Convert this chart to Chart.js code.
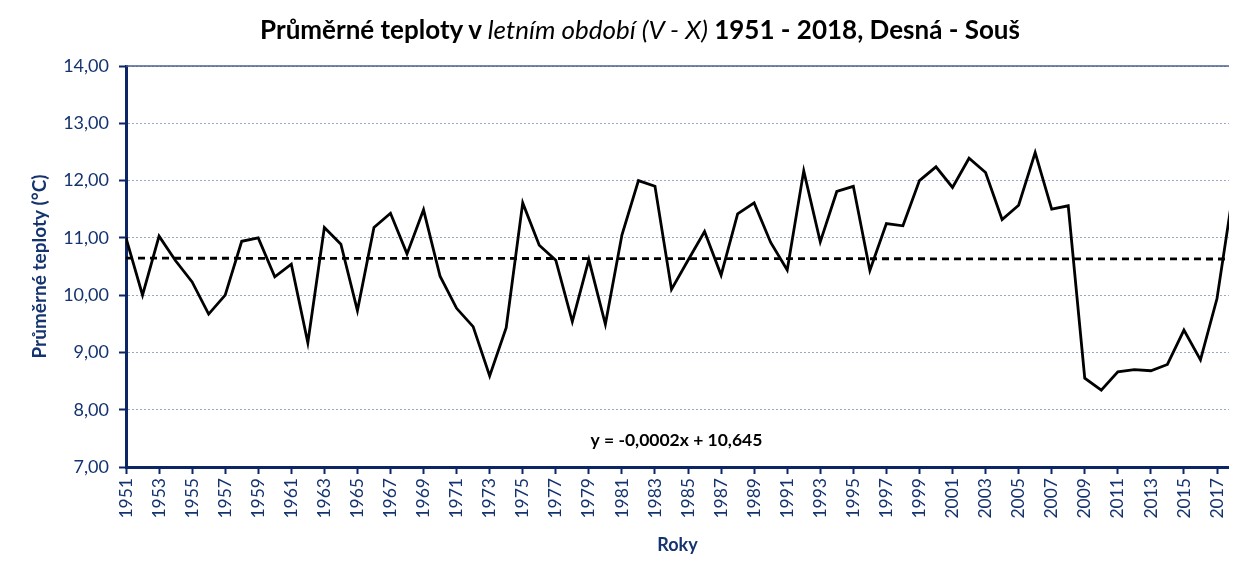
<!DOCTYPE html>
<html lang="cs">
<head>
<meta charset="utf-8">
<title>Průměrné teploty - Desná - Souš</title>
<script src="https://cdn.jsdelivr.net/npm/chart.js"></script>
<style>
  html, body { margin: 0; padding: 0; background: #fff; overflow: hidden; }
  .wrap { position: relative; width: 1242px; height: 561px; }
  .title {
    position: absolute; top: 13px; left: 0; width: 1280px;
    text-align: center; font-family: Lato, "Open Sans", sans-serif;
    font-weight: bold; font-size: 26px; color: #000;
  }
  .title i { font-weight: normal; }
</style>
</head>
<body>
<div class="wrap">
  <div class="title">Průměrné teploty v <i>letním období (V - X)</i> 1951 - 2018, Desná - Souš</div>
  <canvas id="myChart" width="1242" height="561"></canvas>
</div>
<script>
// roky 1951 - 2018
const years = []
for (let y = 1951; y <= 2018; y++) years.push(y)

// průměrné teploty V - X (°C)
const temps = [
  11.00, 10.00, 11.03, 10.60, 10.23, 9.67, 10.00, 10.94, 11.00, 10.32,
  10.54, 9.17, 11.18, 10.89, 9.73, 11.18, 11.43, 10.72, 11.49, 10.33,
  9.77, 9.45, 8.59, 9.43, 11.61, 10.87, 10.61, 9.54, 10.62, 9.49,
  11.05, 12.00, 11.90, 10.10, 10.61, 11.11, 10.35, 11.42, 11.61, 10.92,
  10.44, 12.17, 10.93, 11.81, 11.90, 10.43, 11.25, 11.21, 12.00, 12.24,
  11.88, 12.39, 12.14, 11.32, 11.57, 12.49, 11.50, 11.56, 8.55, 8.34,
  8.66, 8.70, 8.68, 8.79, 9.39, 8.87, 9.94, 11.85
]

// lineární trend (konce čáry)
const trendYears = [1951, 2018]
const trendValues = [10.645, 10.631]
const trendLabel = "y = -0,0002x + 10,645"

const tickYears = []
for (let y = 1951; y <= 2017; y += 2) tickYears.push(y)

const navy = "#0b2566"
const textBlue = "#15336f"
const fontFamily = "Lato, 'Open Sans', sans-serif"

const tempPoints = years.map((y, i) => ({ x: y, y: temps[i] }))
const trendPoints = trendYears.map((y, i) => ({ x: y, y: trendValues[i] }))

const extras = {
  id: "extras",
  afterDatasetsDraw(chart) {
    const { ctx, chartArea, scales } = chart
    // horní okraj plochy grafu
    ctx.save()
    ctx.strokeStyle = "#4a5f8f"
    ctx.lineWidth = 1.5
    ctx.beginPath()
    ctx.moveTo(chartArea.left, chartArea.top)
    ctx.lineTo(chartArea.right, chartArea.top)
    ctx.stroke()

    // rovnice trendu
    ctx.fillStyle = "#000"
    ctx.font = "bold 17.5px " + fontFamily
    ctx.textAlign = "center"
    ctx.textBaseline = "middle"
    ctx.fillText(trendLabel, scales.x.getPixelForValue(1984.3), scales.y.getPixelForValue(7.47))
    ctx.restore()
  }
}

const ctx = document.getElementById("myChart").getContext("2d")
const chart = new Chart(ctx, {
  type: "line",
  data: {
    datasets: [
      {
        label: "Teplota",
        data: tempPoints,
        borderColor: "#000",
        borderWidth: 2.8,
        pointRadius: 0,
        tension: 0,
        fill: false
      },
      {
        label: "Trend",
        data: trendPoints,
        borderColor: "#000",
        borderWidth: 2.8,
        borderDash: [7, 5],
        pointRadius: 0,
        fill: false
      }
    ]
  },
  plugins: [extras],
  options: {
    responsive: false,
    animation: false,
    devicePixelRatio: 1,
    layout: { autoPadding: false, padding: { top: 66, left: 0, right: 0, bottom: 0 } },
    plugins: {
      legend: { display: false },
      tooltip: { enabled: false }
    },
    scales: {
      x: {
        type: "linear",
        min: 1951,
        max: 2017.72,
        afterBuildTicks: scale => { scale.ticks = tickYears.map(v => ({ value: v })) },
        afterFit: scale => { scale.height = 94 },
        ticks: {
          autoSkip: false,
          minRotation: 90,
          maxRotation: 90,
          padding: 4,
          color: textBlue,
          font: { family: fontFamily, size: 17.5 },
          callback: v => String(v)
        },
        grid: {
          drawOnChartArea: false,
          drawTicks: true,
          tickLength: 7,
          tickWidth: 2,
          tickColor: navy
        },
        border: { color: navy, width: 3 },
        title: {
          display: true,
          text: "Roky",
          color: textBlue,
          font: { family: fontFamily, size: 18, weight: "bold" },
          padding: { top: 0, bottom: 5 }
        }
      },
      y: {
        min: 7,
        max: 14,
        afterFit: scale => { scale.width = 126 },
        ticks: {
          stepSize: 1,
          padding: 10,
          color: textBlue,
          font: { family: fontFamily, size: 18 },
          callback: v => v.toFixed(2).replace(".", ",")
        },
        grid: {
          color: "#9aa9c8",
          lineWidth: 1,
          drawTicks: true,
          tickLength: 7,
          tickWidth: 2,
          tickColor: navy
        },
        border: { color: navy, width: 3, dash: [2, 2] },
        title: {
          display: true,
          text: "Průměrné teploty (°C)",
          color: textBlue,
          font: { family: fontFamily, size: 19, weight: "bold" },
          padding: { top: 28, bottom: 0 }
        }
      }
    }
  }
})
</script>
</body>
</html>
